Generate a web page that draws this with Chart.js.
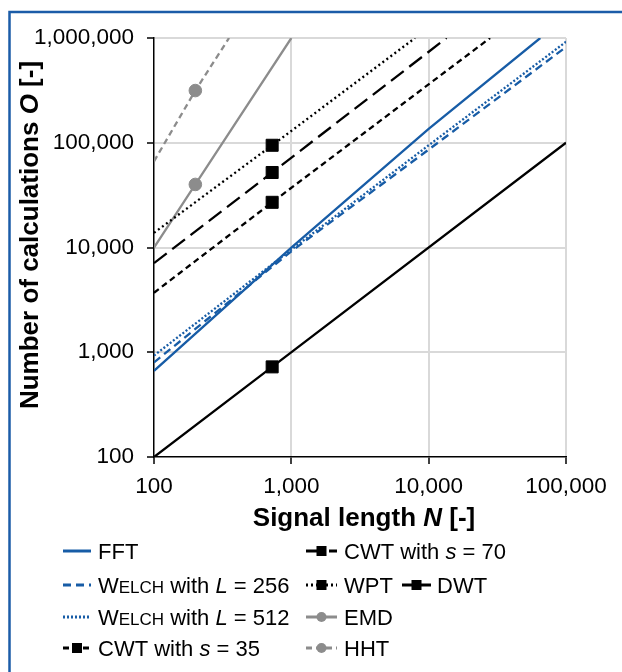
<!DOCTYPE html>
<html>
<head>
<meta charset="utf-8">
<script src="https://cdn.jsdelivr.net/npm/chart.js@4.4.0/dist/chart.umd.min.js"></script>
<style>
  html, body { margin: 0; padding: 0; background: #fff; }
  #c { display: block; width: 622px; height: 672px; }
</style>
</head>
<body>
<canvas id="c" width="622" height="672"></canvas>
<script>
// values (log-log), N = signal length, O = operations
const seriesNames = ['FFT', 'W^ELCH^ with _L_ = 256', 'W^ELCH^ with _L_ = 512', 'CWT with _s_ = 35',
  'CWT with _s_ = 70', 'WPT', 'DWT', 'EMD', 'HHT'];
const fftN = [100, 1000, 10000, 65000];
const fftO = [664, 9970, 136000, 1000000];
const welch256N = [100, 1000, 10000, 100000];
const welch256O = [800, 9200, 86000, 820000];
const welch512N = [100, 1000, 10000, 100000];
const welch512O = [930, 9550, 94600, 920000];
const cwt35N = [100, 725, 28000];
const cwt35O = [3700, 27000, 1000000];
const cwt70N = [100, 725, 13500];
const cwt70O = [7100, 52000, 1000000];
const wptN = [100, 725, 7960];
const wptO = [13800, 94600, 1000000];
const dwtN = [100, 725, 100000];
const dwtO = [100, 725, 100000];
const emdN = [100, 200, 1000];
const emdO = [10000, 40000, 1000000];
const hhtN = [100, 200, 352];
const hhtO = [66500, 315000, 1000000];
const xTicks = [100, 1000, 10000, 100000];
const yTicks = [100, 1000, 10000, 100000, 1000000];
const xTitle = 'Signal length _N_ [-]';
const yTitle = 'Number of calculations _O_ [-]';

const BLUE = '#175ca6', GRAY = '#8c8c8c', BLACK = '#000000';
const FONT = '"Liberation Sans", Arial, sans-serif';

const allN = [fftN, welch256N, welch512N, cwt35N, cwt70N, wptN, dwtN, emdN, hhtN];
const allO = [fftO, welch256O, welch512O, cwt35O, cwt70O, wptO, dwtO, emdO, hhtO];
// line look per series: colour, dash, marker
const looks = [
  { color: BLUE, dash: [] },
  { color: BLUE, dash: [8, 5] },
  { color: BLUE, dash: [2, 2] },
  { color: BLACK, dash: [6, 4], marker: 'rect' },
  { color: BLACK, dash: [16, 7], marker: 'rect' },
  { color: BLACK, dash: [2, 3], marker: 'rect' },
  { color: BLACK, dash: [], marker: 'rect' },
  { color: GRAY, dash: [], marker: 'circle' },
  { color: GRAY, dash: [6, 4], marker: 'circle' }
];

const datasets = seriesNames.map((name, k) => {
  const lk = looks[k];
  return {
    label: name.replace(/[\^_]/g, ''),
    data: allN[k].map((n, i) => ({ x: n, y: allO[k][i] })),
    showLine: true,
    borderColor: lk.color,
    backgroundColor: lk.color,
    borderWidth: 2.3,
    borderDash: lk.dash,
    pointStyle: lk.marker || 'circle',
    pointRadius: allN[k].map((n, i) => (lk.marker && i === 1 ? (lk.marker === 'rect' ? 8.5 : 6.3) : 0)),
    pointBorderWidth: 1,
    pointHoverRadius: 0,
    tension: 0
  };
});

// split "_x_" italic and "^X^" small caps
function parseRuns(str) {
  return str.split(/(\^[^^]+\^|_[^_]+_)/).filter(s => s).map(s => {
    if (s[0] === '_') return { t: s.slice(1, -1), i: true };
    if (s[0] === '^') return { t: s.slice(1, -1), sc: true };
    return { t: s };
  });
}
function runFont(r, size, bold) {
  return (r.i ? 'italic ' : '') + (bold ? 'bold ' : '') + (r.sc ? Math.round(size * 0.78) : size) + 'px ' + FONT;
}
function runsWidth(ctx, runs, size, bold) {
  return runs.reduce((w, r) => { ctx.font = runFont(r, size, bold); return w + ctx.measureText(r.t).width; }, 0);
}
function drawRuns(ctx, runs, x, y, size, bold) {
  runs.forEach(r => {
    ctx.font = runFont(r, size, bold);
    ctx.fillText(r.t, x, y);
    x += ctx.measureText(r.t).width;
  });
}

function legendSymbol(ctx, lk, x0, x1, y) {
  ctx.save();
  ctx.strokeStyle = lk.color;
  ctx.fillStyle = lk.color;
  ctx.lineWidth = 3;
  ctx.setLineDash(lk.dash);
  ctx.beginPath();
  ctx.moveTo(x0, y);
  ctx.lineTo(x1, y);
  ctx.stroke();
  ctx.setLineDash([]);
  const cx = (x0 + x1) / 2;
  if (lk.marker === 'rect') ctx.fillRect(cx - 5, y - 5, 10, 10);
  if (lk.marker === 'circle') { ctx.beginPath(); ctx.arc(cx, y, 5, 0, Math.PI * 2); ctx.fill(); }
  ctx.restore();
}

const deco = {
  id: 'deco',
  beforeDraw(chart) {
    const ctx = chart.ctx;
    ctx.save();
    ctx.strokeStyle = '#1b5ca8';
    ctx.lineWidth = 2.5;
    ctx.beginPath();
    ctx.moveTo(9.5, 680);
    ctx.lineTo(9.5, 12);
    ctx.lineTo(640, 12);
    ctx.stroke();
    ctx.restore();
  },
  afterDraw(chart) {
    const ctx = chart.ctx;
    const a = chart.chartArea;
    ctx.save();
    ctx.fillStyle = '#000';
    ctx.textBaseline = 'alphabetic';
    // axis titles
    const xr = parseRuns(xTitle);
    const xw = runsWidth(ctx, xr, 26, true);
    drawRuns(ctx, xr, (a.left + a.right) / 2 - xw / 2 + 4, 526, 26, true);
    const yr = parseRuns(yTitle);
    const yw = runsWidth(ctx, yr, 26, true);
    ctx.save();
    ctx.translate(37.5, 235);
    ctx.rotate(-Math.PI / 2);
    drawRuns(ctx, yr, -yw / 2, 0, 26, true);
    ctx.restore();
    // legend
    const slots = [
      [63, 91, 98, 551], [63, 91, 98, 585], [63, 91, 98, 617], [63, 91, 98, 648],
      [306, 337, 344, 551], [306, 337, 344, 585], [402, 431, 437, 585],
      [306, 337, 344, 617], [306, 337, 344, 648]
    ];
    seriesNames.forEach((name, k) => {
      const s = slots[k];
      legendSymbol(ctx, looks[k], s[0], s[1], s[3]);
      ctx.fillStyle = '#000';
      drawRuns(ctx, parseRuns(name), s[2], s[3] + 8, 22, false);
    });
    ctx.restore();
  }
};

const gridColor = c => (c.tick && c.tick.value === 100 ? 'rgba(0,0,0,0)' : '#d9d9d9');
const tickFont = { family: FONT, size: 22.5 };
const fmt = v => Number(v).toLocaleString('en-US');

new Chart(document.getElementById('c'), {
  type: 'scatter',
  data: { datasets },
  options: {
    responsive: false,
    animation: false,
    layout: { padding: { left: 10, right: 56, top: 38, bottom: 155 } },
    plugins: { legend: { display: false }, tooltip: { enabled: false } },
    scales: {
      x: {
        type: 'logarithmic', min: 100, max: 100000,
        afterBuildTicks: s => { s.ticks = xTicks.map(v => ({ value: v })); },
        afterFit: s => { s.height = 60; },
        grid: { color: gridColor, lineWidth: 2, tickColor: '#000', tickLength: 7, tickWidth: 1.5 },
        border: { color: '#000', width: 1.5 },
        ticks: { color: '#000', font: tickFont, padding: 9, maxRotation: 0, autoSkip: false, callback: fmt }
      },
      y: {
        type: 'logarithmic', min: 100, max: 1000000,
        afterBuildTicks: s => { s.ticks = yTicks.map(v => ({ value: v })); },
        afterFit: s => { s.width = 144; },
        grid: { color: gridColor, lineWidth: 2, tickColor: '#000', tickLength: 7, tickWidth: 1.5 },
        border: { color: '#000', width: 1.5 },
        ticks: { color: '#000', font: tickFont, padding: 13, autoSkip: false, callback: fmt }
      }
    }
  },
  plugins: [deco]
});
</script>
</body>
</html>
